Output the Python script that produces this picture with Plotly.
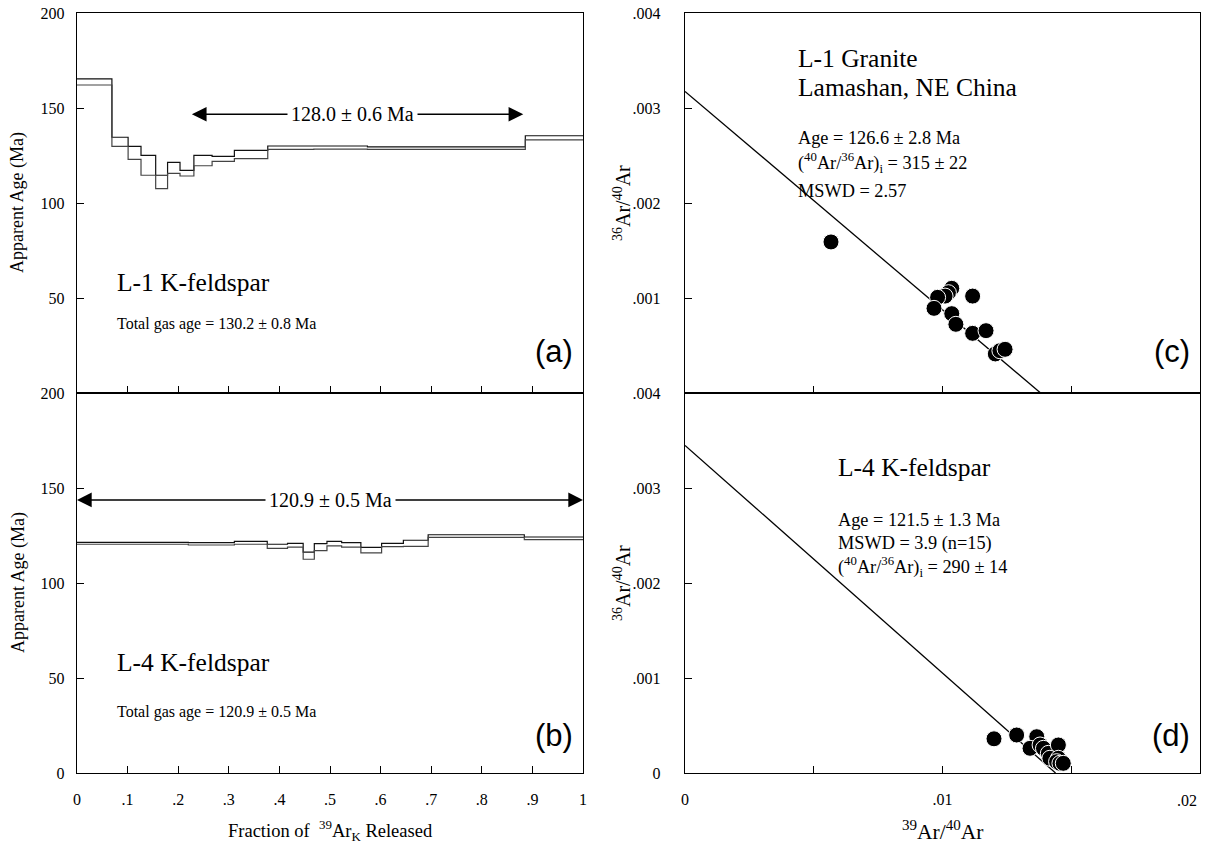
import plotly.graph_objects as go

# ---------------- data ----------------
# Panel (a): L-1 K-feldspar age spectrum (step edges, upper / lower bounds of each step, Ma)
a_edges = [0, 0.069, 0.101, 0.1265, 0.1555, 0.179, 0.2036, 0.231, 0.267, 0.311, 0.377, 0.468, 0.574, 0.886, 1.0]
a_hi = [165.3, 134.6, 129.8, 125.1, 114.6, 121.4, 117.2, 125.1, 124.5, 127.7, 130.0, 130.0, 129.5, 135.4]
a_lo = [162.1, 129.8, 123.0, 114.6, 107.6, 115.6, 114.2, 119.6, 121.9, 123.4, 128.2, 128.4, 128.2, 133.2]

# Panel (b): L-4 K-feldspar age spectrum
b_edges = [0, 0.220, 0.311, 0.376, 0.416, 0.447, 0.469, 0.494, 0.523, 0.561, 0.602, 0.645, 0.694, 0.884, 1.0]
b_hi = [121.4, 121.2, 121.9, 120.4, 120.9, 116.2, 120.7, 121.9, 121.2, 118.8, 120.9, 122.5, 125.4, 124.2]
b_lo = [120.4, 120.0, 120.4, 118.2, 118.9, 112.5, 117.0, 119.5, 118.9, 115.9, 119.1, 119.3, 124.0, 122.8]

# Panel (c): L-1 inverse isochron (39Ar/40Ar, 36Ar/40Ar)
c_x = [0.00567, 0.01036, 0.01023, 0.0101, 0.00981, 0.01117, 0.00967, 0.01036, 0.01052, 0.01117, 0.01169, 0.01205, 0.01223, 0.01243]
c_y = [0.00159, 0.001102, 0.001056, 0.00102, 0.001007, 0.00102, 0.000891, 0.000835, 0.000723, 0.000628, 0.000656, 0.000411, 0.000445, 0.00046]
c_yint = 1 / 315.0
c_xint = 0.01381

# Panel (d): L-4 inverse isochron
d_x = [0.0120, 0.01288, 0.01366, 0.0134, 0.01379, 0.01392, 0.01411, 0.0145, 0.01417, 0.0145, 0.01443, 0.01456, 0.01469]
d_y = [0.00036, 0.0004, 0.000382, 0.00026, 0.000295, 0.00026, 0.000207, 0.000295, 0.000155, 0.000155, 0.000119, 0.000102, 0.000102]
d_yint = 1 / 290.0
d_xint = 0.01439

left_ticks = [0, 0.1, 0.2, 0.3, 0.4, 0.5, 0.6, 0.7, 0.8, 0.9, 1.0]
left_ticklabels = ["0", ".1", ".2", ".3", ".4", ".5", ".6", ".7", ".8", ".9", "1"]
age_ticks = [0, 50, 100, 150, 200]
right_xticks = [0, 0.005, 0.01, 0.015, 0.02]
right_xlabels = ["0", "", ".01", "", ""]
last_right_xlabel = ".02"
ratio_ticks = [0, 0.001, 0.002, 0.003, 0.004]
ratio_labels = ["0", ".001", ".002", ".003", ".004"]

# ---------------- figure ----------------
W, H = 1207, 848
SERIF = "Liberation Serif"
SANS = "Liberation Sans"


def px_x(p):
    return p / W


def px_y(p):
    return 1 - p / H


LX = [px_x(77), px_x(583)]
RX = [px_x(685), px_x(1200)]
TOPY = [px_y(393), px_y(13)]
BOTY = [px_y(773), px_y(393)]

fig = go.Figure()


def step(edges, vals):
    return list(edges), list(vals) + [vals[-1]]


for xs, hi, lo, xa, ya in [(a_edges, a_hi, a_lo, "x", "y"), (b_edges, b_hi, b_lo, "x2", "y2")]:
    for v, col in [(hi, "#111111"), (lo, "#444444")]:
        sx, sy = step(xs, v)
        fig.add_trace(go.Scatter(x=sx, y=sy, mode="lines", line=dict(color=col, width=1.2, shape="hv"),
                                 xaxis=xa, yaxis=ya, showlegend=False, hoverinfo="skip"))

for xs, ys, yint, xint, xa, ya in [(c_x, c_y, c_yint, c_xint, "x3", "y3"), (d_x, d_y, d_yint, d_xint, "x4", "y4")]:
    fig.add_trace(go.Scatter(x=[0, xint], y=[yint, 0], mode="lines", line=dict(color="black", width=1.3),
                             xaxis=xa, yaxis=ya, showlegend=False, hoverinfo="skip"))
    fig.add_trace(go.Scatter(x=xs, y=ys, mode="markers",
                             marker=dict(color="black", size=16, line=dict(color="white", width=1)),
                             xaxis=xa, yaxis=ya, showlegend=False, hoverinfo="skip"))

tickfont = dict(family=SERIF, size=16, color="black")
common = dict(showline=True, linecolor="black", linewidth=1.4, mirror=True, ticks="inside",
              tickcolor="black", ticklen=7, tickwidth=1, showgrid=False, zeroline=False,
              tickfont=tickfont, automargin=False)

fig.update_layout(
    template="none",
    width=W, height=H, margin=dict(l=0, r=0, t=0, b=0, pad=0),
    paper_bgcolor="white", plot_bgcolor="white",
    xaxis=dict(domain=LX, anchor="y", range=[0, 1], tickvals=left_ticks, showticklabels=False, **common),
    yaxis=dict(domain=TOPY, anchor="x", range=[0, 200], tickvals=[50, 100, 150, 200], ticklabelstandoff=8, **common),
    xaxis2=dict(domain=LX, anchor="y2", range=[0, 1], tickvals=left_ticks, ticktext=left_ticklabels,
                ticklabelstandoff=12, **common),
    yaxis2=dict(domain=BOTY, anchor="x2", range=[0, 200], tickvals=age_ticks, ticklabelstandoff=8, **common),
    xaxis3=dict(domain=RX, anchor="y3", range=[0, 0.02], tickvals=right_xticks, showticklabels=False, **common),
    yaxis3=dict(domain=TOPY, anchor="x3", range=[0, 0.004], tickvals=ratio_ticks[1:], ticktext=ratio_labels[1:],
                ticklabelstandoff=20, **common),
    xaxis4=dict(domain=RX, anchor="y4", range=[0, 0.02], tickvals=right_xticks, ticktext=right_xlabels,
                ticklabelstandoff=12, **common),
    yaxis4=dict(domain=BOTY, anchor="x4", range=[0, 0.004], tickvals=ratio_ticks, ticktext=ratio_labels,
                ticklabelstandoff=20, **common),
)

ann = []


def txt(x, y, t, xref, yref, size, family=SERIF, xanchor="left", yanchor="middle", bg=None):
    d = dict(x=x, y=y, text=t, xref=xref, yref=yref, showarrow=False, xanchor=xanchor, yanchor=yanchor,
             font=dict(family=family, size=size, color="black"))
    if bg:
        d["bgcolor"] = bg
        d["borderpad"] = 3
    ann.append(d)


def arrow(x_head, x_tail, y, xref, yref):
    ann.append(dict(x=x_head, y=y, ax=x_tail, ay=y, xref=xref, yref=yref, axref=xref, ayref=yref,
                    showarrow=True, arrowhead=2, arrowsize=2.1, arrowwidth=1.4, arrowcolor="black", text=""))


# range arrows
arrow(0.227, 0.55, 146.7, "x", "y")
arrow(0.882, 0.55, 146.7, "x", "y")
txt(0.545, 146.7, "128.0 ± 0.6 Ma", "x", "y", 20, xanchor="center", bg="white")
arrow(0.0, 0.5, 143.7, "x2", "y2")
arrow(1.0, 0.5, 143.7, "x2", "y2")
txt(0.5, 143.7, "120.9 ± 0.5 Ma", "x2", "y2", 20, xanchor="center", bg="white")

# panel text
txt(0.075, 58.4, "L-1 K-feldspar", "x", "y", 25.5)
txt(0.075, 36.3, "Total gas age = 130.2 ± 0.8 Ma", "x", "y", 16)
txt(0.985, 21.6, "(a)", "x", "y", 31, family=SANS, xanchor="right")
txt(0.075, 58.4, "L-4 K-feldspar", "x2", "y2", 25.5)
txt(0.075, 32.1, "Total gas age = 120.9 ± 0.5 Ma", "x2", "y2", 16)
txt(0.985, 20.0, "(b)", "x2", "y2", 31, family=SANS, xanchor="right")

txt(0.00431, 0.003526, "L-1 Granite", "x3", "y3", 25.5)
txt(0.00431, 0.003221, "Lamashan, NE China", "x3", "y3", 25.5)
txt(0.00431, 0.002684, "Age = 126.6 ± 2.8 Ma", "x3", "y3", 18.3)
txt(0.00431, 0.002421, "(<sup>40</sup>Ar/<sup>36</sup>Ar)<sub>i</sub> = 315 ± 22", "x3", "y3", 18.3)
txt(0.00431, 0.002126, "MSWD = 2.57", "x3", "y3", 18.3)
txt(0.0197, 0.000432, "(c)", "x3", "y3", 31, family=SANS, xanchor="right")

txt(0.00586, 0.003221, "L-4 K-feldspar", "x4", "y4", 25.5)
txt(0.00586, 0.002663, "Age = 121.5 ± 1.3 Ma", "x4", "y4", 18.3)
txt(0.00586, 0.002411, "MSWD = 3.9 (n=15)", "x4", "y4", 18.3)
txt(0.00586, 0.002168, "(<sup>40</sup>Ar/<sup>36</sup>Ar)<sub>i</sub> = 290 ± 14", "x4", "y4", 18.3)
txt(0.0197, 0.0004, "(d)", "x4", "y4", 31, family=SANS, xanchor="right")

# last tick label on the right x axis, pulled inside the page edge
ann.append(dict(x=px_x(1199), y=px_y(800), xref="paper", yref="paper", text=last_right_xlabel, showarrow=False,
                font=tickfont, xanchor="right", yanchor="middle"))

# axis titles (paper coords)
for yc in [px_y(203), px_y(583)]:
    ann.append(dict(x=px_x(18), y=yc, xref="paper", yref="paper", text="Apparent Age (Ma)", showarrow=False,
                    textangle=-90, font=dict(family=SERIF, size=18, color="black"),
                    xanchor="center", yanchor="middle"))
    ann.append(dict(x=px_x(622), y=yc, xref="paper", yref="paper",
                    text="<sup>36</sup>Ar/<sup>40</sup>Ar", showarrow=False,
                    textangle=-90, font=dict(family=SERIF, size=20, color="black"),
                    xanchor="center", yanchor="middle"))
ann.append(dict(x=px_x(330), y=px_y(830), xref="paper", yref="paper",
                text="Fraction of  <sup>39</sup>Ar<sub>K</sub> Released", showarrow=False,
                font=dict(family=SERIF, size=18.5, color="black"), xanchor="center", yanchor="middle"))
ann.append(dict(x=px_x(942), y=px_y(830), xref="paper", yref="paper",
                text="<sup>39</sup>Ar/<sup>40</sup>Ar", showarrow=False,
                font=dict(family=SERIF, size=21.5, color="black"), xanchor="center", yanchor="middle"))

fig.update_layout(annotations=ann)
fig.write_html("out.html", config={"displayModeBar": False},
               post_script="document.body.style.margin='0px';")
